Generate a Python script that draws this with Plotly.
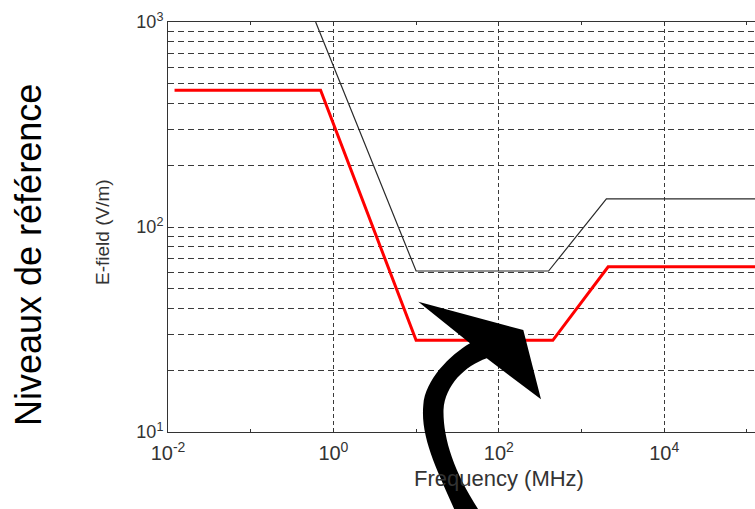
import plotly.graph_objects as go

# ---- data ----
red_freq = [0.012, 0.70, 10, 450, 2100, 300000]
red_field = [465, 465, 28, 28, 64, 64]
black_freq = [0.61, 10, 400, 2000, 300000]
black_field = [1000, 61, 61, 137, 137]

x_tick_vals = [0.01, 1, 100, 10000]
x_tick_text = ["10<sup>-2</sup>", "10<sup>0</sup>", "10<sup>2</sup>", "10<sup>4</sup>"]
x_minor_vals = [0.1, 10, 1000, 100000]
y_tick_vals = [10, 100, 1000]
y_tick_text = ["10<sup>1</sup>", "10<sup>2</sup>", "10<sup>3</sup>"]
y_minor_vals = [20, 30, 40, 50, 60, 70, 80, 90, 200, 300, 400, 500, 600, 700, 800, 900]

W, H = 755, 509
ML, MR, MT, MB = 168, 0, 22, 77
PW, PH = W - ML - MR, H - MT - MB

FONT = "Liberation Sans, Arial, sans-serif"
GRID = "#3a3a3a"

fig = go.Figure()
fig.add_trace(go.Scatter(x=black_freq, y=black_field, mode="lines",
                         line=dict(color="#2a2a2a", width=1.2), showlegend=False))
fig.add_trace(go.Scatter(x=red_freq, y=red_field, mode="lines",
                         line=dict(color="#ff0000", width=3), showlegend=False))


def px(x, y):
    return f"{(x - ML) / PW:.5f},{(H - MB - y) / PH:.5f}"


arrow_path = (
    f"M {px(456.7, 515)} "
    f"C {px(440, 475)} {px(420, 440)} {px(423.3, 405)} "
    f"C {px(425, 380)} {px(450, 355)} {px(470, 343.3)} "
    f"L {px(418.3, 301.7)} L {px(523.3, 330)} L {px(541, 399.3)} L {px(486.7, 358.3)} "
    f"C {px(465, 366)} {px(445, 385)} {px(443.5, 410)} "
    f"C {px(443, 440)} {px(455, 475)} {px(482, 515)} Z"
)
fig.add_shape(type="path", path=arrow_path, xref="paper", yref="paper",
              fillcolor="black", line=dict(width=0), layer="above")

fig.update_xaxes(
    type="log", range=[-2, -2 + PW / 82.7],
    tickmode="array", tickvals=x_tick_vals, ticktext=x_tick_text,
    ticks="inside", ticklen=4, tickcolor="#333", ticklabelstandoff=3,
    tickfont=dict(family=FONT, size=20, color="#333"),
    showline=True, linecolor="#333", linewidth=1, mirror="ticks",
    showgrid=True, gridcolor=GRID, gridwidth=1, griddash="4px,3px",
    minor=dict(tickvals=x_minor_vals, ticks="inside", ticklen=3, tickcolor="#333",
               showgrid=False),
    zeroline=False,
)
fig.update_yaxes(
    type="log", range=[1, 3],
    tickmode="array", tickvals=y_tick_vals, ticktext=y_tick_text,
    ticks="inside", ticklen=4, tickcolor="#333",
    tickfont=dict(family=FONT, size=18, color="#333"),
    showline=True, linecolor="#333", linewidth=1, mirror=False,
    showgrid=True, gridcolor=GRID, gridwidth=1, griddash="6px,4px",
    minor=dict(tickvals=y_minor_vals, ticks="", showgrid=True,
               gridcolor=GRID, gridwidth=1, griddash="6px,4px"),
    zeroline=False,
)

fig.add_annotation(text="Frequency (MHz)", xref="x", yref="paper",
                   x=2, y=(H - MB - 478) / PH, xanchor="center", yanchor="middle",
                   showarrow=False, font=dict(family=FONT, size=22, color="#333"))
fig.add_annotation(text="E-field (V/m)", xref="paper", yref="paper",
                   x=(102 - ML) / PW, y=(H - MB - 232) / PH, textangle=-90,
                   xanchor="center", yanchor="middle",
                   showarrow=False, font=dict(family=FONT, size=19, color="#333"))
fig.add_annotation(text="Niveaux de référence", xref="paper", yref="paper",
                   x=(28 - ML) / PW, y=(H - MB - 255) / PH, textangle=-90,
                   xanchor="center", yanchor="middle",
                   showarrow=False, font=dict(family=FONT, size=36, color="black"))

fig.update_layout(
    width=W, height=H, autosize=False,
    margin=dict(l=ML, r=MR, t=MT, b=MB, pad=0),
    paper_bgcolor="white", plot_bgcolor="white",
    showlegend=False,
)

fig.write_html("out.html", config={"displayModeBar": False},
               post_script="document.body.style.margin='0px';")
